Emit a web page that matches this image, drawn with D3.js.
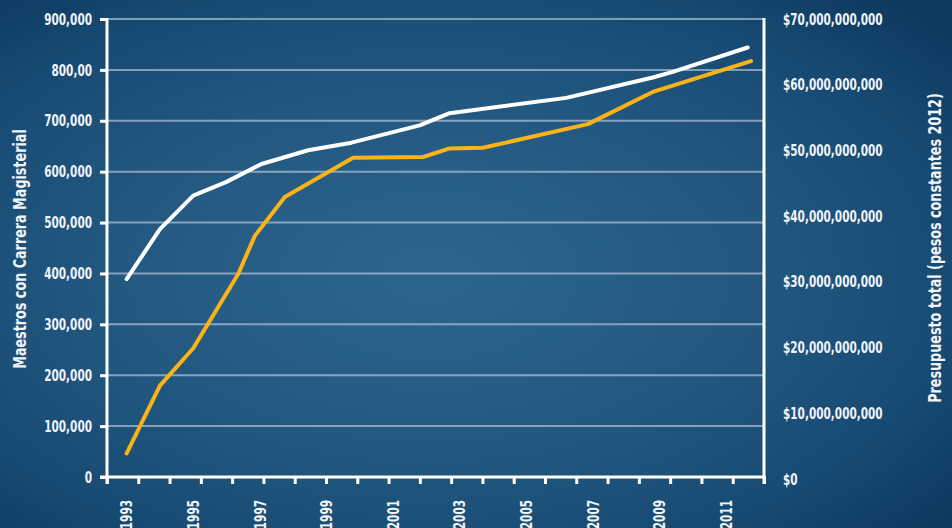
<!DOCTYPE html>
<html>
<head>
<meta charset="utf-8">
<script src="https://cdn.jsdelivr.net/npm/d3@7"></script>
<style>
  body { margin: 0; background: #1a4a72; }
  svg { display: block; }
  text { font-family: 'Liberation Sans Narrow', 'DejaVu Sans Condensed', 'Arial Narrow', sans-serif; font-weight: bold; fill: #f1f4f8; }
</style>
</head>
<body>
<svg id="chart" width="952" height="528"></svg>
<script>
// ---- data ----
const yearLabels = [1993, 1995, 1997, 1999, 2001, 2003, 2005, 2007, 2009, 2011];
const leftTicks = [0, 100000, 200000, 300000, 400000, 500000, 600000, 700000, 800000, 900000];
const leftTickLabels = ["0", "100,000", "200,000", "300,000", "400,000", "500,000", "600,000", "700,000", "800,00", "900,000"];
const rightTicks = [0, 10e9, 20e9, 30e9, 40e9, 50e9, 60e9, 70e9];

// Maestros con Carrera Magisterial (white line, left axis)
const teacherYears  = [1993, 1994, 1995, 1996, 1997.05, 1998.45, 1999.75, 2001.8, 2002.7, 2006.2, 2008.8, 2009.4, 2011.65];
const teacherValues = [389000, 487000, 553000, 580000, 615000, 642000, 657000, 691000, 715000, 745000, 785000, 796000, 844000];

// Presupuesto total, pesos constantes 2012 (orange line, right axis)
const budgetYears  = [1993, 1994, 1995, 1996.35, 1996.85, 1997.75, 1999.8, 2001.9, 2002.7, 2003.7, 2006.85, 2008.8, 2011.75];
const budgetValues = [3.9e9, 14.2e9, 19.9e9, 31.2e9, 37.0e9, 42.9e9, 48.9e9, 49.0e9, 50.3e9, 50.4e9, 54.0e9, 58.9e9, 63.6e9];

const teacherData = teacherYears.map((y, i) => ({ x: y, v: teacherValues[i] }));
const budgetData = budgetYears.map((y, i) => ({ x: y, v: budgetValues[i] }));

// ---- layout ----
const W = 952, H = 528;
const plotL = 107, plotR = 764, plotT = 19;
const SX = 0.73;   // horizontal squeeze for tick labels (condensed look)
const SXT = 0.81;  // squeeze for axis titles
const svg = d3.select("#chart");

// background
const defs = svg.append("defs");
const rg = defs.append("radialGradient").attr("id", "bg").attr("cx", "45%").attr("cy", "52%").attr("r", "70%");
rg.append("stop").attr("offset", "0%").attr("stop-color", "#2d658e");
rg.append("stop").attr("offset", "45%").attr("stop-color", "#235981");
rg.append("stop").attr("offset", "80%").attr("stop-color", "#174a72");
rg.append("stop").attr("offset", "100%").attr("stop-color", "#0e3a60");
svg.append("rect").attr("width", W).attr("height", H).attr("fill", "url(#bg)");

// scales
const x = d3.scaleLinear().domain([1992.41, 2012.14]).range([plotL, plotR]);
const yL = d3.scaleLinear().domain([0, 900000]).range([477, plotT]);
const yR = d3.scaleLinear().domain([0, 70e9]).range([479, plotT]);
const tickPos = d3.scaleLinear().domain([0, 21]).range([plotL, plotR]);

// gridlines
svg.append("g").selectAll("line").data(leftTicks.slice(1)).join("line")
  .attr("x1", plotL).attr("x2", plotR)
  .attr("y1", d => yL(d)).attr("y2", d => yL(d))
  .attr("stroke", "rgba(205,210,230,0.6)").attr("stroke-width", 2);

// lines
const lineL = d3.line().x(d => x(d.x)).y(d => yL(d.v));
const lineR = d3.line().x(d => x(d.x)).y(d => yR(d.v));
svg.append("path").datum(budgetData).attr("d", lineR)
  .attr("fill", "none").attr("stroke", "#fbb317").attr("stroke-width", 4)
  .attr("stroke-linejoin", "round").attr("stroke-linecap", "round");
svg.append("path").datum(teacherData).attr("d", lineL)
  .attr("fill", "none").attr("stroke", "#ffffff").attr("stroke-width", 4)
  .attr("stroke-linejoin", "round").attr("stroke-linecap", "round");

// left axis
const gL = svg.append("g").attr("transform", `translate(${plotL},0)`)
  .call(d3.axisLeft(yL).tickValues(leftTicks).tickFormat((d, i) => leftTickLabels[i]).tickSize(7).tickPadding(8));
gL.select(".domain").remove();
gL.selectAll(".tick line").attr("stroke", "#fff").attr("stroke-width", 3);
gL.selectAll(".tick text").style("font-size", "16px").attr("fill", "#f1f4f8")
  .attr("x", -15 / SX).attr("transform", `scale(${SX},1)`);

// right axis
const gR = svg.append("g").attr("transform", `translate(${plotR},0)`)
  .call(d3.axisRight(yR).tickValues(rightTicks).tickFormat(d => "$" + d3.format(",")(d)).tickSize(0).tickPadding(19));
gR.select(".domain").remove();
gR.selectAll(".tick text").style("font-size", "16px").attr("fill", "#f1f4f8")
  .attr("x", 19 / SX).attr("transform", `scale(${SX},1)`);

// bottom axis tick marks
const gB = svg.append("g").attr("transform", `translate(0,477)`)
  .call(d3.axisBottom(tickPos).tickValues(d3.range(22)).tickFormat("").tickSize(7));
gB.select(".domain").remove();
gB.selectAll(".tick line").attr("stroke", "#fff").attr("stroke-width", 3);

// axis lines
svg.append("line").attr("x1", plotL).attr("x2", plotL).attr("y1", plotT - 1).attr("y2", 484)
  .attr("stroke", "#fff").attr("stroke-width", 3);
svg.append("line").attr("x1", plotR).attr("x2", plotR).attr("y1", plotT - 1).attr("y2", 484)
  .attr("stroke", "#fff").attr("stroke-width", 3);
svg.append("line").attr("x1", plotL - 7).attr("x2", plotR + 1.5).attr("y1", 477).attr("y2", 477)
  .attr("stroke", "#fff").attr("stroke-width", 3);

// year labels (rotated, partially running off the bottom edge as in the original)
svg.append("g").selectAll("text").data(yearLabels).join("text")
  .attr("transform", d => `translate(${x(d)},500) rotate(-90) scale(${SX},1)`)
  .attr("text-anchor", "end").attr("dy", "0.36em")
  .style("font-size", "16px").text(d => d);

// axis titles
svg.append("text").attr("transform", `translate(26,249) rotate(-90) scale(${SXT},1)`)
  .attr("text-anchor", "middle").style("font-size", "17.5px")
  .text("Maestros con Carrera Magisterial");
svg.append("text").attr("transform", `translate(941,248) rotate(-90) scale(${SXT},1)`)
  .attr("text-anchor", "middle").style("font-size", "17.5px")
  .text("Presupuesto total (pesos constantes 2012)");
</script>
</body>
</html>
